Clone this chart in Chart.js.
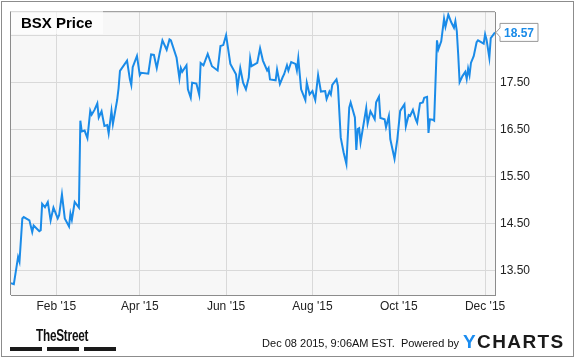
<!DOCTYPE html>
<html>
<head>
<meta charset="utf-8">
<script src="https://cdn.jsdelivr.net/npm/chart.js"></script>
<style>
  html, body { margin: 0; padding: 0; background: #fff; }
  #wrap { position: relative; width: 575px; height: 358px; overflow: hidden; font-family: "Liberation Sans", Arial, sans-serif; }
  #frame { position: absolute; left: 1px; top: 1px; width: 573px; height: 356px; box-sizing: border-box; border: 1px solid #8c8c8c; pointer-events: none; }
  #legend { position: absolute; left: 11px; top: 11px; width: 92px; height: 23px; background: rgba(255,255,255,0.6);
            font-weight: bold; font-size: 15px; line-height: 24px; padding-left: 10px; box-sizing: border-box; color: #000; }
  #street { position: absolute; left: 36px; top: 326px; font-weight: bold; font-size: 17px; color: #111;
            transform: scaleX(0.69); transform-origin: left top; letter-spacing: -0.3px; }
  .bar { position: absolute; top: 347px; height: 4px; width: 32px; background: #1a1a1a; }
  #stamp { position: absolute; right: 116px; top: 337px; font-size: 11px; color: #111; white-space: pre; }
  #ycharts { position: absolute; left: 463px; top: 331px; font-weight: bold; font-size: 19px; letter-spacing: 1.4px; color: #1a1a1a; }
  #ycharts span { color: #1a8cf0; }
</style>
</head>
<body>
<div id="wrap">
  <canvas id="chart" width="575" height="358"></canvas>
  <div id="legend">BSX Price</div>
  <div id="street">TheStreet</div>
  <div class="bar" style="left:10px"></div>
  <div class="bar" style="left:47px"></div>
  <div class="bar" style="left:84px"></div>
  <div id="stamp">Dec 08 2015, 9:06AM EST.  Powered by</div>
  <div id="ycharts"><span>Y</span>CHARTS</div>
  <div id="frame"></div>
</div>
<script>
// ===== Dados (dias desde 31/12/2014) =====
const days = [0,2,5,6,8,9,13,15,16,20,21,22,24,26,28,30,33,34,36,38,41,42,43,45,48,49,50,52,54,56,57,59,61,62,64,66,68,69,71,72,75,76,77,82,84,85,86,89,91,92,97,99,101,103,105,107,110,112,113,117,119,120,121,124,125,127,128,131,133,134,136,139,142,146,148,150,152,155,159,160,162,164,166,168,169,170,174,176,178,181,182,183,187,188,190,192,193,195,196,198,201,202,203,205,208,209,211,213,215,217,219,222,223,225,226,227,230,231,233,235,237,239,240,243,244,245,246,247,251,252,254,257,258,260,261,264,265,267,268,271,273,275,278,279,281,282,284,286,287,289,291,292,294,295,296,298,299,301,302,304,306,307,309,311,313,314,315,316,317,319,321,322,323,324,325,327,329,330,334,335,336,338,339,341,342];
const prices = [13.23,13.21,13.79,13.69,14.61,14.64,14.57,14.32,14.46,14.34,14.36,14.92,14.85,14.96,14.57,14.84,14.61,14.68,15.12,14.61,14.44,14.71,14.58,14.96,14.84,16.69,16.46,16.48,16.32,16.90,16.82,16.92,17.06,16.76,16.89,16.58,16.60,16.42,16.90,16.62,17.13,17.38,17.75,17.97,17.57,17.45,17.83,18.07,17.66,17.71,17.69,18.10,18.09,17.81,18.12,18.40,18.20,18.42,18.40,18.03,17.59,17.81,17.73,17.87,17.36,17.18,17.50,17.48,17.24,17.92,17.87,18.11,17.85,17.76,18.28,18.30,18.51,17.90,17.68,17.38,17.81,17.50,17.36,17.61,18.02,17.85,17.92,18.23,17.97,17.76,17.81,17.57,17.55,17.78,17.47,17.62,17.68,17.87,17.76,17.94,17.90,17.76,18.02,17.36,17.13,17.50,17.25,17.32,17.13,17.66,17.31,17.32,17.15,17.31,17.25,17.45,17.57,17.43,16.33,16.02,15.77,16.97,17.08,16.76,16.07,16.51,16.53,16.23,16.96,16.63,16.89,16.72,17.08,17.20,16.75,16.72,16.55,16.79,16.30,15.88,16.30,16.90,17.04,16.57,16.81,16.79,16.92,16.72,16.65,17.06,17.08,17.18,17.20,16.43,16.72,16.71,16.69,18.40,18.21,18.38,18.86,18.69,18.95,18.79,18.67,18.81,18.60,18.10,17.51,17.64,17.73,17.58,17.80,17.66,17.92,18.07,18.36,18.40,18.33,18.53,18.42,18.03,18.45,18.53,18.57];

const tickDays = [32, 91, 152, 213, 274, 335];
const tickLabels = ["Feb '15", "Apr '15", "Jun '15", "Aug '15", "Oct '15", "Dec '15"];
const priceTicks = [13.5, 14.5, 15.5, 16.5, 17.5, 18.5];

const azul = "#1a8be8";

// fundo e moldura da área do gráfico
const areaPlugin = {
  id: "area",
  beforeDraw(chart) {
    const { ctx, chartArea: a } = chart;
    ctx.save();
    ctx.fillStyle = "#f7f7f7";
    ctx.fillRect(a.left, a.top, a.right - a.left, a.bottom - a.top);
    ctx.restore();
  },
  afterDraw(chart) {
    const { ctx, chartArea: a } = chart;
    ctx.save();
    ctx.strokeStyle = "#8c8c8c";
    ctx.lineWidth = 1;
    ctx.beginPath();
    ctx.moveTo(a.left - 0.5, a.bottom);
    ctx.lineTo(a.left - 0.5, a.top - 0.5);
    ctx.lineTo(a.right, a.top - 0.5);
    ctx.stroke();

    // etiqueta do último preço
    const ultimo = prices[prices.length - 1];
    const y = chart.scales.y.getPixelForValue(ultimo);
    const x0 = a.right + 1, bx = a.right + 5, bw = 38, bh = 18;
    ctx.fillStyle = "#fff";
    ctx.strokeStyle = "#999";
    ctx.beginPath();
    ctx.moveTo(x0, y);
    ctx.lineTo(bx, y - 4.5);
    ctx.lineTo(bx, y - bh / 2);
    ctx.lineTo(bx + bw, y - bh / 2);
    ctx.lineTo(bx + bw, y + bh / 2);
    ctx.lineTo(bx, y + bh / 2);
    ctx.lineTo(bx, y + 4.5);
    ctx.closePath();
    ctx.fill();
    ctx.stroke();
    ctx.fillStyle = azul;
    ctx.font = "bold 12px 'Liberation Sans', Arial, sans-serif";
    ctx.textAlign = "left";
    ctx.textBaseline = "middle";
    ctx.fillText(ultimo.toFixed(2), bx + 4, y + 1);
    ctx.restore();
  }
};

new Chart(document.getElementById("chart"), {
  type: "line",
  data: {
    datasets: [{
      data: days.map((d, i) => ({ x: d, y: prices[i] })),
      borderColor: azul,
      borderWidth: 2,
      pointRadius: 0,
      tension: 0,
      fill: false
    }]
  },
  options: {
    responsive: false,
    animation: false,
    devicePixelRatio: 1,
    layout: { padding: { left: 11, top: 11, right: 0, bottom: 0 } },
    plugins: { legend: { display: false }, tooltip: { enabled: false } },
    scales: {
      x: {
        type: "linear",
        min: 0,
        max: 342,
        afterBuildTicks: s => { s.ticks = tickDays.map(v => ({ value: v })); },
        afterFit: s => { s.height = 63; },
        grid: { color: "#d9d9d9", drawTicks: false },
        border: { color: "#8c8c8c" },
        ticks: {
          autoSkip: false, maxRotation: 0, padding: 4, color: "#222",
          font: { family: "'Liberation Sans', Arial, sans-serif", size: 12 },
          callback: (v, i) => tickLabels[i]
        }
      },
      y: {
        position: "right",
        min: 12.98,
        max: 19.0,
        afterBuildTicks: s => { s.ticks = priceTicks.map(v => ({ value: v })); },
        afterFit: s => { s.width = 80; },
        grid: { color: "#d9d9d9", drawTicks: false },
        border: { color: "#8c8c8c" },
        ticks: {
          padding: 5, color: "#222",
          font: { family: "'Liberation Sans', Arial, sans-serif", size: 12 },
          callback: v => (v === 18.5 ? "" : v.toFixed(2))
        }
      }
    }
  },
  plugins: [areaPlugin]
});
</script>
</body>
</html>
